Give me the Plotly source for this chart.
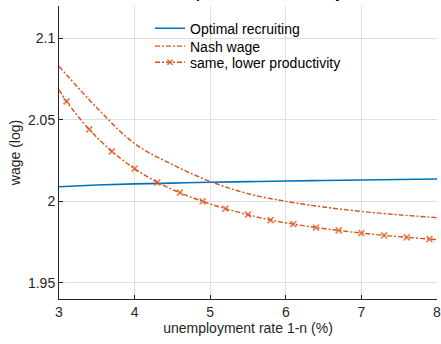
import plotly.graph_objects as go

# ---- data ----
x_opt = [3, 3.5, 4, 4.5, 5, 5.5, 6, 6.5, 7, 7.5, 8]
w_opt = [2.0090, 2.0100, 2.0107, 2.0112, 2.0117, 2.0121, 2.0125, 2.0128, 2.0131, 2.0134, 2.0137]

x_nash = [3, 3.5, 4, 4.5, 5, 5.5, 6, 6.5, 7, 7.5, 8]
w_nash = [2.0830, 2.0575, 2.0355, 2.0226, 2.0122, 2.0047, 2.0000, 1.9965, 1.9938, 1.9917, 1.9900]

x_low = [3.0, 3.1, 3.4, 3.7, 4.0, 4.3, 4.6, 4.9, 5.2, 5.5, 5.8, 6.1, 6.4, 6.7, 7.0, 7.3, 7.6, 7.9, 8.0]
w_low = [2.0686, 2.0614, 2.0442, 2.0307, 2.0201, 2.0117, 2.0053, 2.0000, 1.9955, 1.9918, 1.9885,
         1.9860, 1.9839, 1.9821, 1.9805, 1.9791, 1.9779, 1.9768, 1.9765]

x_ticks = [3, 4, 5, 6, 7, 8]
y_ticks = [1.95, 2.0, 2.05, 2.1]
y_tick_text = ["1.95", "2", "2.05", "2.1"]

names = ["Optimal recruiting", "Nash wage", "same, lower productivity"]
title_text = "Optimal vs. Nash salary"

blue = "#0072BD"
orange = "#D95319"
font = "Liberation Sans, Arial, sans-serif"
txt = "#262626"
dash = "5px,2px,2px,2px"

fig = go.Figure()
fig.add_trace(go.Scatter(x=x_opt, y=w_opt, name=names[0], mode="lines", legend="legend",
                         line=dict(color=blue, width=1.6, shape="spline")))
fig.add_trace(go.Scatter(x=x_nash, y=w_nash, name=names[1], mode="lines", legend="legend2",
                         line=dict(color=orange, width=1.4, shape="spline", dash=dash)))
sizes = [0] + [6] * (len(x_low) - 2) + [0]
fig.add_trace(go.Scatter(x=x_low, y=w_low, name=names[2], mode="lines+markers", legend="legend3",
                         line=dict(color=orange, width=1.4, shape="spline", dash=dash),
                         marker=dict(symbol="x-thin", size=sizes, color=orange,
                                     line=dict(color=orange, width=1.8))))

fig.add_annotation(text="<b>" + title_text + "</b>", xref="paper", yref="paper",
                   x=0.542, y=1.010, xanchor="center", yanchor="bottom", showarrow=False,
                   font=dict(family=font, size=14, color="#000000"))

axis_common = dict(showgrid=True, gridcolor="#dfdfdf", gridwidth=1, zeroline=False,
                   showline=True, linecolor=txt, linewidth=1, ticks="inside", ticklen=4,
                   tickcolor=txt, tickfont=dict(family=font, size=14, color=txt), mirror=False)

plot_top, plot_h, plot_left, plot_w = 6, 293, 59, 378


def legend_at(row_center_px):
    return dict(x=(150 - plot_left) / plot_w, y=1 - (row_center_px - plot_top) / plot_h,
                xanchor="left", yanchor="middle", bgcolor="rgba(0,0,0,0)",
                font=dict(family=font, size=14, color="#000000"), itemwidth=30)


fig.update_layout(
    width=441, height=344,
    margin=dict(l=59, r=4, t=6, b=45),
    paper_bgcolor="white", plot_bgcolor="white",
    showlegend=True,
    legend=legend_at(28.7),
    legend2=legend_at(46.5),
    legend3=legend_at(62.7),
    xaxis=dict(range=[3, 8], tickvals=x_ticks, ticktext=[str(v) for v in x_ticks],
               ticklabeloverflow="allow", automargin=False,
               title=dict(text="unemployment rate 1-n (%)", font=dict(family=font, size=14, color=txt),
                          standoff=4),
               **axis_common),
    yaxis=dict(range=[1.94, 2.12], tickvals=y_ticks, ticktext=y_tick_text, automargin=False,
               title=dict(text="wage (log)", font=dict(family=font, size=14, color=txt), standoff=4),
               **axis_common),
)

fig.write_html("out.html")
